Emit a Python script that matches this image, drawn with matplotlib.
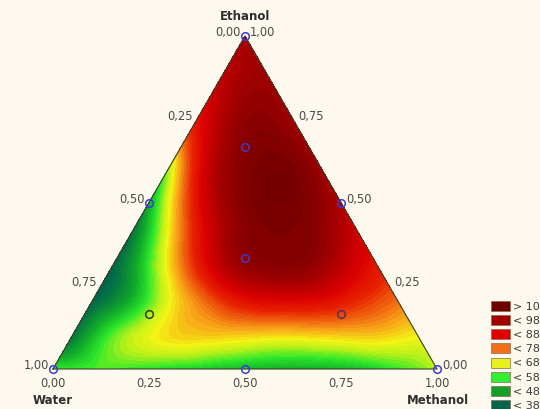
import numpy as np
import matplotlib
matplotlib.use("Agg")
import matplotlib.pyplot as plt
import matplotlib.tri as mtri
from matplotlib.colors import LinearSegmentedColormap
from matplotlib.patches import Rectangle

plt.rcParams['font.family'] = ['DejaVu Sans']

# Axis tick values and their printed labels (decimal comma)
tick_values = [0.0, 0.25, 0.5, 0.75, 1.0]
tick_labels = ["0,00", "0,25", "0,50", "0,75", "1,00"]

# Response on a 0.1 simplex lattice: one row per ethanol fraction,
# entries run over methanol = 0, 0.1, ... up to 1 - ethanol.
ethanol_levels = [0.0, 0.1, 0.2, 0.3, 0.4, 0.5, 0.6, 0.7, 0.8, 0.9, 1.0]
response_rows = [
    [54, 54, 53, 51, 49, 47, 46, 46, 48, 53, 60],
    [36, 54, 63, 67, 67, 66, 66, 67, 67, 64],
    [33, 46, 63, 75, 84, 86, 85, 80, 74],
    [32, 53, 76, 93, 99, 99, 92, 83],
    [35, 64, 88, 100, 102, 99, 89],
    [45, 78, 97, 103, 102, 94],
    [58, 90, 101, 103, 97],
    [78, 96, 101, 97],
    [88, 98, 97],
    [93, 97],
    [96],
]

# Experimental design points (simplex centroid with axial checks)
design_water = [1.0, 0.0, 0.0, 0.5, 0.5, 0.0, 1/3, 2/3, 1/6, 1/6]
design_methanol = [0.0, 1.0, 0.0, 0.5, 0.0, 0.5, 1/3, 1/6, 2/3, 1/6]
design_ethanol = [0.0, 0.0, 1.0, 0.0, 0.5, 0.5, 1/3, 1/6, 1/6, 2/3]
design_colors = ["#3b3bd6", "#3b3bd6", "#3b3bd6", "#3b3bd6", "#3b3bd6",
                 "#3b3bd6", "#4a36b8", "#3a3a22", "#5a2e5e", "#4a36b8"]

# Legend classes
legend_labels = ["> 100", "< 98", "< 88", "< 78", "< 68", "< 58", "< 48", "< 38"]
legend_colors = ["#6e0000", "#a00000", "#e00000", "#f07018",
                 "#e6f01c", "#30f030", "#14a028", "#00664a"]

H = np.sqrt(3) / 2
BG = "#fdf9ef"


def to_xy(methanol, ethanol):
    m = np.asarray(methanol, dtype=float)
    e = np.asarray(ethanol, dtype=float)
    return m + e / 2, e * H


# Build lattice coordinates
pts_m, pts_e, vals = [], [], []
for e, row in zip(ethanol_levels, response_rows):
    for k, v in enumerate(row):
        pts_m.append(round(k * 0.1, 6))
        pts_e.append(e)
        vals.append(v)
gx, gy = to_xy(pts_m, pts_e)
tri = mtri.Triangulation(gx, gy)
refiner = mtri.UniformTriRefiner(tri)
tri_f, z_f = refiner.refine_field(np.array(vals, dtype=float), subdiv=4)

anchors = [
    (33, "#00664a"), (40, "#0a8a35"), (46, "#12b02a"), (53, "#2ee82a"),
    (59, "#b4f01a"), (64, "#f4f414"), (70, "#f8a818"), (75, "#f06a10"),
    (81, "#e82400"), (88, "#dc0000"), (94, "#b40000"), (100, "#8a0000"),
    (104, "#740000"),
]
vmin, vmax = anchors[0][0], anchors[-1][0]
cmap = LinearSegmentedColormap.from_list(
    "resp", [((v - vmin) / (vmax - vmin), c) for v, c in anchors])

fig = plt.figure(figsize=(5.4, 4.1), dpi=100, facecolor=BG)
ax = fig.add_axes([53 / 540, 40 / 410, 384 / 540, 333 / 410])
ax.set_xlim(0, 1)
ax.set_ylim(0, H)
ax.set_facecolor(BG)
ax.axis("off")

levels = np.linspace(30, 106, 58)
ax.tricontourf(tri_f, z_f, levels=levels, cmap=cmap,
               vmin=vmin, vmax=vmax, extend="both", antialiased=False)

# Triangle outline
ax.plot([0, 1, 0.5, 0], [0, 0, H, 0], color="#3f3f2a", lw=0.8,
        clip_on=False, zorder=3)

# Design points
dx, dy = to_xy(design_methanol, design_ethanol)
for x, y, c in zip(dx, dy, design_colors):
    ax.plot(x, y, "o", ms=5.5, mfc="none", mec=c, mew=1.1,
            clip_on=False, zorder=4)

tick_color = "#4a4a4a"
fs_tick = 8.3
for v, lab in zip(tick_values, tick_labels):
    # Water axis along the left edge
    x, y = to_xy(0.0, 1 - v)
    ax.annotate(lab, (x, y), xytext=(-3, 3), textcoords="offset points",
                ha="right", va="center", fontsize=fs_tick, color=tick_color,
                annotation_clip=False)
    # Ethanol axis along the right edge
    x, y = to_xy(1 - v, v)
    ax.annotate(lab, (x, y), xytext=(3.5, 3), textcoords="offset points",
                ha="left", va="center", fontsize=fs_tick, color=tick_color,
                annotation_clip=False)
    # Methanol axis along the bottom
    x, y = to_xy(v, 0.0)
    ax.annotate(lab, (x, y), xytext=(0, -9.5), textcoords="offset points",
                ha="center", va="center", fontsize=fs_tick, color=tick_color,
                annotation_clip=False)

name_color = "#2e2e2e"
fig.text(245 / 540, 1 - 17 / 410, "Ethanol", ha="center", va="center",
         fontsize=8.5, fontweight="bold", color=name_color)
fig.text(53 / 540, 1 - 401 / 410, "Water", ha="center", va="center",
         fontsize=8.5, fontweight="bold", color=name_color)
fig.text(438 / 540, 1 - 401 / 410, "Methanol", ha="center", va="center",
         fontsize=8.5, fontweight="bold", color=name_color)

# Legend swatches
for i, (lab, col) in enumerate(zip(legend_labels, legend_colors)):
    top = 301.7 + 14.2 * i
    fig.add_artist(Rectangle((491 / 540, 1 - (top + 10) / 410), 19 / 540,
                             10 / 410, transform=fig.transFigure,
                             facecolor=col, edgecolor="#8a6a50", lw=0.5))
    fig.text(513 / 540, 1 - (top + 5) / 410, lab, ha="left", va="center",
             fontsize=8, color="#3a3a3a")

fig.savefig("out.png", dpi=100, facecolor=BG)
